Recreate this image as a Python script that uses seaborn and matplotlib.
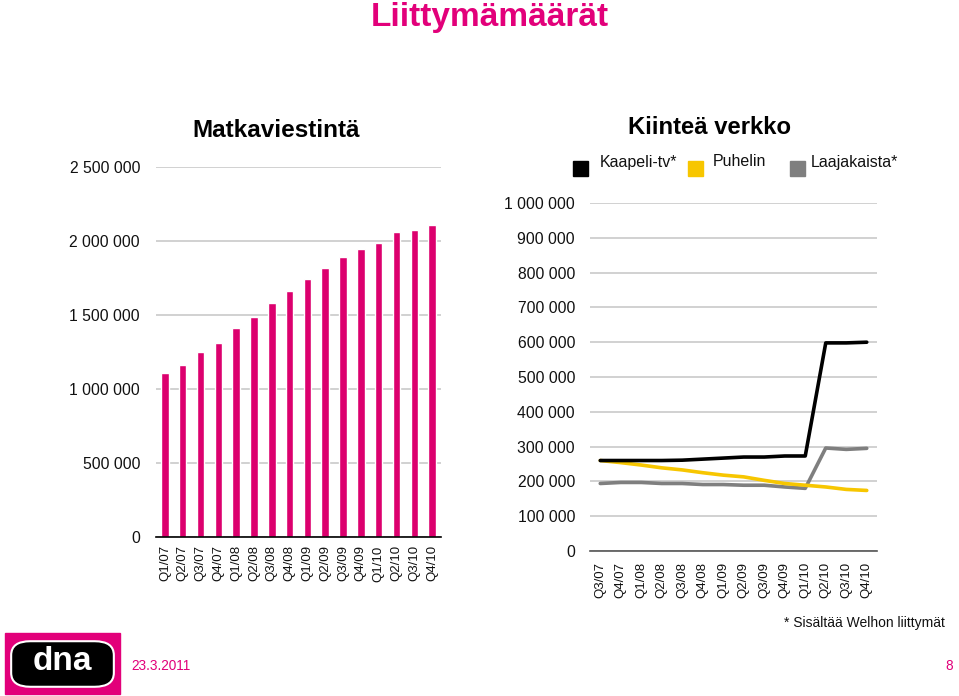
import matplotlib
matplotlib.use('Agg')
import matplotlib.pyplot as plt
import seaborn as sns
import pandas as pd
from matplotlib.patches import Rectangle, FancyBboxPatch

# ---------------- data ----------------
mobile_quarters = ['Q1/07', 'Q2/07', 'Q3/07', 'Q4/07', 'Q1/08', 'Q2/08', 'Q3/08', 'Q4/08',
                   'Q1/09', 'Q2/09', 'Q3/09', 'Q4/09', 'Q1/10', 'Q2/10', 'Q3/10', 'Q4/10']
mobile_subs = [1110000, 1165000, 1248000, 1311000, 1410000, 1485000, 1584000, 1661000,
               1745000, 1815000, 1889000, 1945000, 1986000, 2058000, 2076000, 2108000]
mobile_ticks = [0, 500000, 1000000, 1500000, 2000000, 2500000]
mobile_tick_labels = ['0', '500 000', '1 000 000', '1 500 000', '2 000 000', '2 500 000']

fixed_quarters = ['Q3/07', 'Q4/07', 'Q1/08', 'Q2/08', 'Q3/08', 'Q4/08', 'Q1/09',
                  'Q2/09', 'Q3/09', 'Q4/09', 'Q1/10', 'Q2/10', 'Q3/10', 'Q4/10']
cable_tv = [260000, 260000, 260000, 260000, 261000, 264000, 267000,
            270000, 270000, 273000, 273000, 598000, 598000, 600000]
phone = [260000, 254000, 247000, 239000, 233000, 225000, 218000,
         213000, 203000, 194000, 189000, 184000, 177000, 174000]
broadband = [194000, 197000, 197000, 194000, 194000, 191000, 191000,
             189000, 189000, 184000, 180000, 296000, 292000, 295000]
series_names = ['Kaapeli-tv*', 'Puhelin', 'Laajakaista*']
fixed_ticks = [0, 100000, 200000, 300000, 400000, 500000, 600000, 700000, 800000, 900000, 1000000]
fixed_tick_labels = ['0', '100 000', '200 000', '300 000', '400 000', '500 000',
                     '600 000', '700 000', '800 000', '900 000', '1 000 000']

MAGENTA = '#E2007A'
BAR = '#DC006E'
colors = {'Kaapeli-tv*': '#000000', 'Puhelin': '#F7C600', 'Laajakaista*': '#7F7F7F'}

# ---------------- figure ----------------
sns.set_theme(style='white')
plt.rcParams['font.family'] = ['Liberation Sans', 'DejaVu Sans']

W, H = 959, 696
fig = plt.figure(figsize=(W / 100, H / 100), dpi=100)

def fx(px):
    return px / W

def fy(py):
    return 1 - py / H

# left axes: x 156..441, y 167..537
ax1 = fig.add_axes([fx(156), fy(537), fx(441 - 156), (537 - 167) / H])
# right axes: x 590..877, y 203..551
ax2 = fig.add_axes([fx(590), fy(551), fx(877 - 590), (551 - 203) / H])

# ----- bar chart -----
sns.barplot(x=mobile_quarters, y=mobile_subs, color=BAR, saturation=1, width=0.42,
            ax=ax1, zorder=3)
ax1.set_xlim(-0.5, len(mobile_quarters) - 0.5)
ax1.set_ylim(0, 2500000)
ax1.set_yticks(mobile_ticks)
ax1.set_yticklabels(mobile_tick_labels)
ax1.yaxis.grid(True, color='#c9c9c9', lw=1.2)
ax1.set_axisbelow(True)
for s in ['left', 'right', 'top']:
    ax1.spines[s].set_visible(False)
ax1.spines['bottom'].set_color('#000000')
ax1.spines['bottom'].set_linewidth(1.2)
ax1.spines['bottom'].set_zorder(4)
ax1.tick_params(axis='y', length=0, pad=11.5, labelsize=11.3, labelcolor='#111111')
ax1.tick_params(axis='x', length=0, pad=6, labelsize=9.5, labelrotation=90, labelcolor='#111111')
ax1.set_xlabel('')
ax1.set_ylabel('')

# ----- line chart -----
df = pd.DataFrame({
    'idx': list(range(len(fixed_quarters))) * 3,
    'value': cable_tv + phone + broadband,
    'service': [series_names[0]] * len(cable_tv) + [series_names[1]] * len(phone)
               + [series_names[2]] * len(broadband),
})
sns.lineplot(data=df, x='idx', y='value', hue='service',
             hue_order=['Laajakaista*', 'Puhelin', 'Kaapeli-tv*'],
             palette=colors, linewidth=2.6, legend=False, ax=ax2, zorder=3)
ax2.set_xlim(-0.5, len(fixed_quarters) - 0.5)
ax2.set_ylim(0, 1000000)
ax2.set_xticks(range(len(fixed_quarters)))
ax2.set_xticklabels(fixed_quarters)
ax2.set_yticks(fixed_ticks)
ax2.set_yticklabels(fixed_tick_labels)
ax2.yaxis.grid(True, color='#c9c9c9', lw=1.2)
ax2.set_axisbelow(True)
for s in ['left', 'right', 'top']:
    ax2.spines[s].set_visible(False)
ax2.spines['bottom'].set_color('#555555')
ax2.spines['bottom'].set_linewidth(1.2)
ax2.tick_params(axis='y', length=0, pad=10.8, labelsize=11.3, labelcolor='#111111')
ax2.tick_params(axis='x', length=0, pad=8, labelsize=9.5, labelrotation=90, labelcolor='#111111')
ax2.set_xlabel('')
ax2.set_ylabel('')

# ----- titles -----
fig.text(fx(490), fy(26), 'Liittymämäärät', color=MAGENTA, fontsize=24,
         fontweight='bold', ha='center', va='baseline')
fig.text(fx(276), fy(137), 'Matkaviestintä', color='#000000', fontsize=17.5,
         fontweight='bold', ha='center', va='baseline')
fig.text(fx(710), fy(134), 'Kiinteä verkko', color='#000000', fontsize=17.2,
         fontweight='bold', ha='center', va='baseline')

# ----- legend -----
leg_items = [(573, 600, 'Kaapeli-tv*'), (688, 713, 'Puhelin'), (790, 811, 'Laajakaista*')]
for x0, xt, name in leg_items:
    fig.patches.append(Rectangle((fx(x0), fy(176)), fx(15), 15 / H, color=colors[name],
                                 transform=fig.transFigure, figure=fig))
    fig.text(fx(xt), fy(162), name, fontsize=11.5, ha='left', va='center',
             color='#111111')

# ----- footnote & footer -----
fig.text(fx(945), fy(623), '* Sisältää Welhon liittymät', fontsize=10, ha='right',
         va='center', color='#111111')
fig.text(fx(131), fy(666), '23.3.2011', fontsize=9.8, ha='left', va='center', color=MAGENTA)
fig.text(fx(953), fy(666), '8', fontsize=9.8, ha='right', va='center', color=MAGENTA)

# logo
fig.patches.append(Rectangle((fx(5), fy(694)), fx(115), 61 / H, color=MAGENTA,
                             transform=fig.transFigure, figure=fig))
fig.patches.append(FancyBboxPatch((fx(15), fy(684)), fx(95), 40 / H,
                                  boxstyle='round,pad=0.004,rounding_size=0.02',
                                  facecolor='#000000', edgecolor='white', linewidth=1.5,
                                  transform=fig.transFigure, figure=fig))
fig.text(fx(62), fy(662), 'dna', color='white', fontsize=24, fontweight='bold',
         ha='center', va='center')

fig.savefig('out.png', dpi=100)
